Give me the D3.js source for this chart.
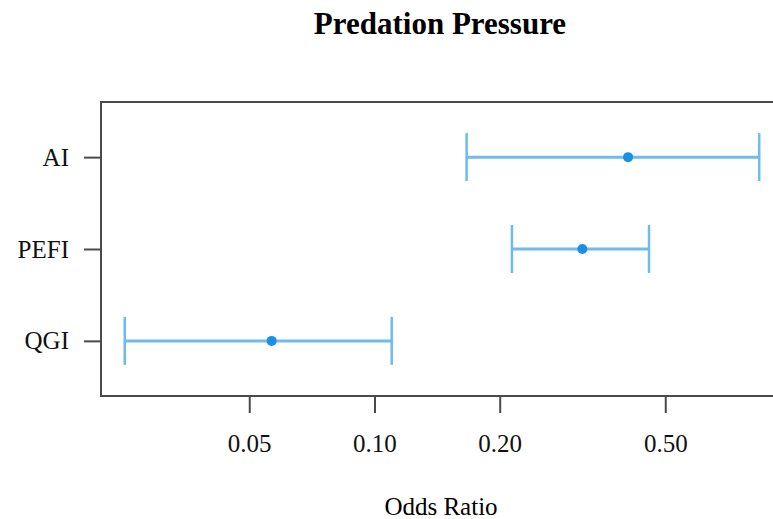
<!DOCTYPE html>
<html>
<head>
<meta charset="utf-8">
<script src="https://cdn.jsdelivr.net/npm/d3@7"></script>
<style>
  body { margin: 0; background: #fff; }
  text { font-family: "Liberation Serif", "Times New Roman", serif; }
</style>
</head>
<body>
<svg id="chart" width="773" height="519"></svg>
<script>
// data
const categories = ["AI", "PEFI", "QGI"]
const oddsRatio = [0.407, 0.316, 0.0566]
const lowerCI = [0.1665, 0.214, 0.0251]
const upperCI = [0.841, 0.457, 0.110]
const xTicks = [0.05, 0.10, 0.20, 0.50]

const svg = d3.select("#chart")
const plotLeft = 101, plotTop = 102, plotBottom = 396, plotRight = 800

const x = d3.scaleLog().domain([0.02201, 1.054]).range([plotLeft, plotRight])
const y = d3.scalePoint().domain(categories).range([plotTop, plotBottom]).padding(0.6)

const lineColor = "#6cbcee", dotColor = "#1a8fe3", axisColor = "#4a4a4a"
const capHalf = 24

// title
svg.append("text")
  .attr("x", 440).attr("y", 34)
  .attr("text-anchor", "middle")
  .style("font-size", "31px").style("font-weight", "bold")
  .text("Predation Pressure")

// frame (right side runs off the page)
svg.append("rect")
  .attr("x", plotLeft).attr("y", plotTop)
  .attr("width", plotRight - plotLeft).attr("height", plotBottom - plotTop)
  .attr("fill", "none").attr("stroke", axisColor).attr("stroke-width", 2)

// y axis
const yAxis = d3.axisLeft(y).tickSize(17).tickPadding(15)
const gy = svg.append("g").attr("transform", `translate(${plotLeft},0)`).call(yAxis)
gy.select(".domain").remove()
gy.selectAll("line").attr("stroke", axisColor).attr("stroke-width", 2)
gy.selectAll("text").attr("fill", "#111").style("font-size", "25px")
  .style("font-family", "Liberation Serif, serif")

// x axis
const xAxis = d3.axisBottom(x).tickValues(xTicks).tickSize(17).tickPadding(21)
  .tickFormat(d3.format(".2f"))
const gx = svg.append("g").attr("transform", `translate(0,${plotBottom})`).call(xAxis)
gx.select(".domain").remove()
gx.selectAll("line").attr("stroke", axisColor).attr("stroke-width", 2)
gx.selectAll("text").attr("fill", "#111").style("font-size", "25px")
  .style("font-family", "Liberation Serif, serif")

svg.append("text")
  .attr("x", 441).attr("y", 515)
  .attr("text-anchor", "middle")
  .style("font-size", "25px")
  .text("Odds Ratio")

// error bars
const rows = categories.map((c, i) => ({c, or: oddsRatio[i], lo: lowerCI[i], hi: upperCI[i]}))
const g = svg.append("g")
g.selectAll(".ci").data(rows).enter().append("line")
  .attr("x1", d => x(d.lo)).attr("x2", d => x(d.hi))
  .attr("y1", d => y(d.c)).attr("y2", d => y(d.c))
  .attr("stroke", lineColor).attr("stroke-width", 3)
g.selectAll(".capLo").data(rows).enter().append("line")
  .attr("x1", d => x(d.lo)).attr("x2", d => x(d.lo))
  .attr("y1", d => y(d.c) - capHalf).attr("y2", d => y(d.c) + capHalf)
  .attr("stroke", lineColor).attr("stroke-width", 2.5)
g.selectAll(".capHi").data(rows).enter().append("line")
  .attr("x1", d => x(d.hi)).attr("x2", d => x(d.hi))
  .attr("y1", d => y(d.c) - capHalf).attr("y2", d => y(d.c) + capHalf)
  .attr("stroke", lineColor).attr("stroke-width", 2.5)
g.selectAll("circle").data(rows).enter().append("circle")
  .attr("cx", d => x(d.or)).attr("cy", d => y(d.c)).attr("r", 5)
  .attr("fill", dotColor)
</script>
</body>
</html>
